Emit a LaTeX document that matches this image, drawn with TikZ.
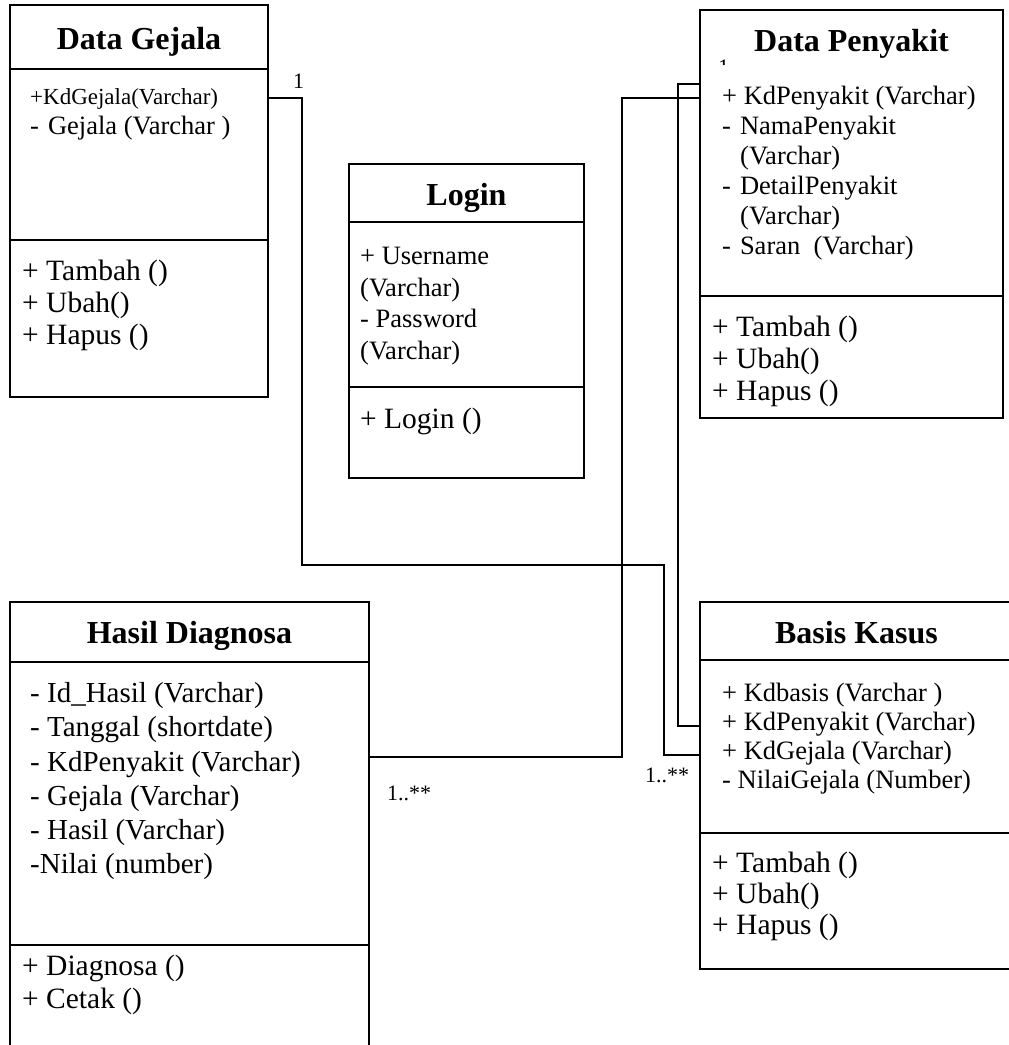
\documentclass[tikz,border=0pt]{standalone}
\usepackage{fontspec}
\setmainfont{Liberation Serif}
\begin{document}
\begin{tikzpicture}[x=1pt,y=-1pt,
  classbox/.style={draw, line width=2pt, inner sep=0pt, outer sep=0pt},
  rule/.style={line width=2pt},
  link/.style={line width=2pt},
  title/.style={font=\fontsize{32}{38}\selectfont\bfseries, inner sep=0pt, anchor=base},
  attr/.style={font=\fontsize{26.5}{32}\selectfont, inner sep=0pt, anchor=base west},
  small/.style={font=\fontsize{23}{27}\selectfont, inner sep=0pt, anchor=base west},
  meth/.style={font=\fontsize{29.5}{34}\selectfont, inner sep=0pt, anchor=base west},
  hattr/.style={font=\fontsize{29}{34}\selectfont, inner sep=0pt, anchor=base west},
  mult/.style={font=\fontsize{22}{26}\selectfont, inner sep=0pt, anchor=base west}]

\clip (0,0) rectangle (1009,1045);
\fill[white] (0,0) rectangle (1009,1045);

% ---- class boxes ----
\node[classbox, minimum width=258pt, minimum height=392pt] (gejala) at (139,201) {};
\node[classbox, minimum width=235pt, minimum height=314pt] (login) at (466.5,321) {};
\node[classbox, minimum width=303pt, minimum height=408pt] (penyakit) at (851.5,214) {};
\node[classbox, minimum width=359pt, minimum height=480pt] (hasil) at (189.5,842) {};
\node[classbox, minimum width=313pt, minimum height=367pt] (basis) at (856.5,785.5) {};

% ---- compartment dividers ----
\draw[rule] (gejala.west |- 0,69) -- (gejala.east |- 0,69);
\draw[rule] (gejala.west |- 0,240) -- (gejala.east |- 0,240);
\draw[rule] (login.west |- 0,222) -- (login.east |- 0,222);
\draw[rule] (login.west |- 0,387) -- (login.east |- 0,387);
\draw[rule] (penyakit.west |- 0,296) -- (penyakit.east |- 0,296);
\draw[rule] (hasil.west |- 0,662) -- (hasil.east |- 0,662);
\draw[rule] (hasil.west |- 0,945) -- (hasil.east |- 0,945);
\draw[rule] (basis.west |- 0,660) -- (basis.east |- 0,660);
\draw[rule] (basis.west |- 0,833) -- (basis.east |- 0,833);

% ---- Data Gejala ----
\node[title] (gT) at (139,49) {Data Gejala};
\node[small] (g1) at (30,104) {+KdGejala(Varchar)};
\node[attr] (g2) at (30,134) {-\hspace{9pt}Gejala (Varchar )};
\node[meth] (g3) at (22,280) {+ Tambah ()};
\node[meth] (g4) at (22,312) {+ Ubah()};
\node[meth] (g5) at (22,344) {+ Hapus ()};

% ---- Login ----
\node[title] (lT) at (466.5,205) {Login};
\node[attr] (l1) at (360,264) {+ Username};
\node[attr] (l2) at (360,296) {(Varchar)};
\node[attr] (l3) at (360,327) {- Password};
\node[attr] (l4) at (360,359) {(Varchar)};
\node[meth] (l5) at (360,428) {+ Login ()};

% ---- Data Penyakit ----
\node[title] (pT) at (851.5,51) {Data Penyakit};
\node[attr] (p1) at (722,104) {+ KdPenyakit (Varchar)};
\node[attr] (p2) at (722,134) {-\hspace{9pt}NamaPenyakit};
\node[attr] (p3) at (740,164) {(Varchar)};
\node[attr] (p4) at (722,194) {-\hspace{9pt}DetailPenyakit};
\node[attr] (p5) at (740,224) {(Varchar)};
\node[attr] (p6) at (722,254) {-\hspace{9pt}Saran~ (Varchar)};
\node[meth] (p7) at (712,336) {+ Tambah ()};
\node[meth] (p8) at (712,368) {+ Ubah()};
\node[meth] (p9) at (712,400) {+ Hapus ()};

% ---- Hasil Diagnosa ----
\node[title] (hT) at (189.5,643) {Hasil Diagnosa};
\node[hattr] (h1) at (30,702) {- Id\_Hasil (Varchar)};
\node[hattr] (h2) at (30,736) {- Tanggal (shortdate)};
\node[hattr] (h3) at (30,771) {- KdPenyakit (Varchar)};
\node[hattr] (h4) at (30,805) {- Gejala (Varchar)};
\node[hattr] (h5) at (30,839) {- Hasil (Varchar)};
\node[hattr] (h6) at (30,873) {-Nilai (number)};
\node[meth] (h7) at (22,975) {+ Diagnosa ()};
\node[meth] (h8) at (22,1008) {+ Cetak ()};

% ---- Basis Kasus ----
\node[title] (bT) at (856.5,643) {Basis Kasus};
\node[attr] (b1) at (722,701) {+ Kdbasis (Varchar )};
\node[attr] (b2) at (722,730) {+ KdPenyakit (Varchar)};
\node[attr] (b3) at (722,759) {+ KdGejala (Varchar)};
\node[attr] (b4) at (722,788) {- NilaiGejala (Number)};
\node[meth] (b5) at (712,872) {+ Tambah ()};
\node[meth] (b6) at (712,903) {+ Ubah()};
\node[meth] (b7) at (712,934) {+ Hapus ()};

% ---- associations ----
\draw[link] (gejala.east |- 0,98) -| (302,565) -| (664,755) -- (basis.west |- 0,755);
\draw[link] (hasil.east |- 0,757) -| (622,98) -- (penyakit.west |- 0,98);
\draw[link] (penyakit.west |- 0,84) -| (678,726) -- (basis.west |- 0,726);

% ---- multiplicities ----
\node[mult] (m1) at (293,88) {1};
\begin{scope}
  \clip (700,0) rectangle (760,64);
  \node[mult] (m2) at (718,74) {1};
\end{scope}
\node[mult] (m3) at (387,800) {1..**};
\node[mult] (m4) at (645,782) {1..**};
\end{tikzpicture}
\end{document}
